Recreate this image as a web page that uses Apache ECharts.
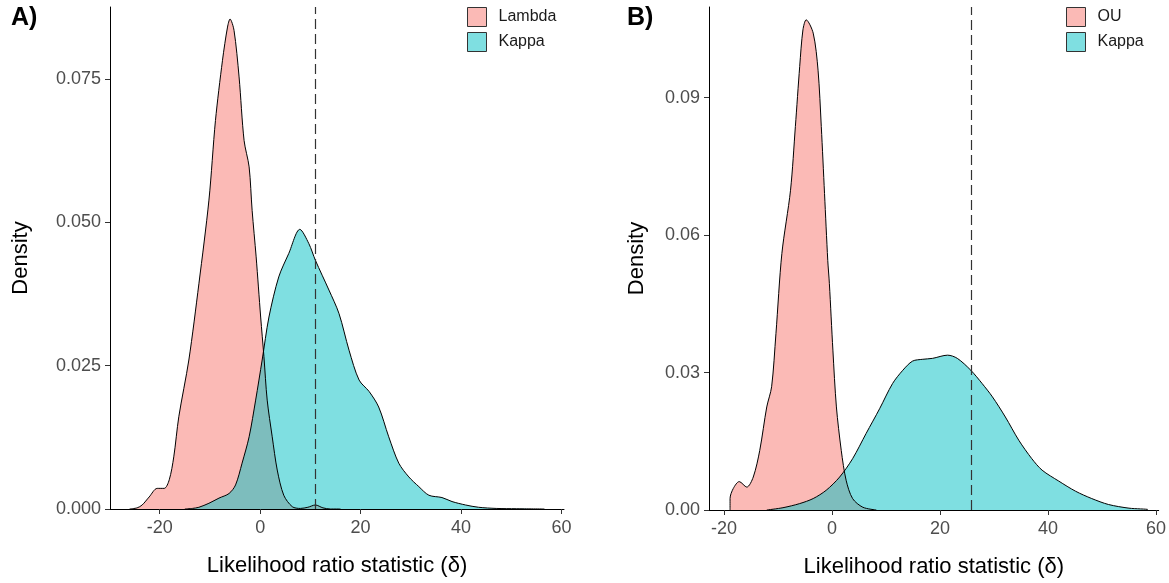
<!DOCTYPE html>
<html>
<head>
    <meta charset="utf-8">
    <title>Likelihood ratio statistic</title>
    <script src="https://cdn.jsdelivr.net/npm/echarts@6/dist/echarts.min.js"></script>
    <style>
        html, body { margin: 0; padding: 0; background: #fff; }
        #chart1 { width: 1169px; height: 583px; }
    </style>
</head>
<body>
<div id="chart1"></div>
<script type="text/javascript">
    // panel A: Lambda vs Kappa
    var lambdaX = [-26, -24.5, -23.5, -22.1, -20.5, -19.1, -18.1, -17.2, -16.2, -14.2, -12.2, -10.2, -8.9, -7.5, -6.5, -6.0, -5.2, -4.2, -3.2, -2.2, -1.6, -0.8, 0.1, 0.75, 1.4, 2.4, 3.4, 4.7, 6.4, 8, 9.5, 11, 12.5, 14, 16];
    var lambdaY = [0, 0.0002, 0.0007, 0.0021, 0.0036, 0.0036, 0.0051, 0.0091, 0.0161, 0.026, 0.0393, 0.0539, 0.0678, 0.0783, 0.0841, 0.0855, 0.0835, 0.0754, 0.0643, 0.0597, 0.0521, 0.044, 0.0335, 0.0266, 0.019, 0.0126, 0.0068, 0.0024, 0.0004, 0.0001, 0.0003, 0.0007, 0.0002, 0, 0];
    var kappaAX = [-15, -13.5, -12.2, -10.2, -8.2, -6.2, -4.9, -3.6, -2.2, -0.9, 0.4, 1.75, 3.7, 5.7, 7.9, 9.7, 11.0, 13.7, 15.7, 17.7, 19.7, 21.7, 23.6, 25.6, 27.6, 29.6, 31.6, 33.6, 36.2, 38.2, 40.9, 43.5, 47, 51, 56.6];
    var kappaAY = [0, 0.0001, 0.0003, 0.001, 0.0019, 0.0027, 0.0042, 0.008, 0.0126, 0.019, 0.026, 0.0335, 0.0405, 0.0446, 0.0488, 0.0463, 0.0434, 0.0382, 0.0341, 0.0277, 0.0225, 0.0205, 0.0178, 0.0126, 0.008, 0.0056, 0.0039, 0.0024, 0.002, 0.0013, 0.0007, 0.0003, 0.0001, 0.00005, 0];
    var cutoffA = 11.0;

    // panel B: OU vs Kappa
    var ouX = [-18.9, -18.9, -18.3, -17.2, -15.8, -14.6, -13.4, -12.1, -11.2, -10.4, -9.3, -7.7, -6.8, -6.0, -5.4, -4.8, -3.5, -2.6, -2.0, -1.4, -0.8, -0.5, 0.15, 0.8, 1.7, 2.6, 3.8, 5.7, 8.2];
    var ouY = [0, 0.0025, 0.0047, 0.0062, 0.005, 0.0072, 0.013, 0.0225, 0.0269, 0.0385, 0.056, 0.0698, 0.0837, 0.0968, 0.1048, 0.107, 0.1041, 0.096, 0.0837, 0.0691, 0.0545, 0.0494, 0.0349, 0.0225, 0.013, 0.0065, 0.0025, 0.0006, 0];
    var kappaBX = [-12.1, -9.1, -6.0, -3.5, -1.1, 1.4, 3.8, 6.3, 8.8, 11.2, 13.1, 14.9, 16.8, 18.6, 21.4, 23.2, 25.7, 27.8, 29.7, 32.1, 34.6, 37.0, 38.9, 42.0, 45.1, 48.1, 51.2, 55, 58.5, 58.5];
    var kappaBY = [0, 0.0005, 0.0014, 0.0025, 0.0043, 0.0072, 0.0112, 0.0167, 0.0221, 0.0276, 0.0305, 0.0325, 0.0329, 0.0331, 0.0338, 0.0331, 0.0305, 0.0276, 0.0247, 0.0203, 0.0152, 0.0112, 0.0087, 0.0063, 0.0041, 0.0025, 0.0012, 0.0004, 0.0001, 0];
    var cutoffB = 25.7;

    // tick labels
    var xTicks = [-20, 0, 20, 40, 60];
    var yTicksA = [0, 0.025, 0.05, 0.075];
    var yTicksB = [0, 0.03, 0.06, 0.09];

    var font = 'Liberation Sans, Arial, sans-serif';
    var pink = 'rgba(248,118,109,0.5)';
    var cyan = 'rgba(0,191,196,0.5)';

    function pairs(xs, ys) {
        return xs.map(function (x, i) { return [x, ys[i]]; });
    }

    function xAxisOf(idx, min, max) {
        return {
            type: 'value', gridIndex: idx, min: min, max: max,
            splitLine: { show: false },
            axisLine: { onZero: false, lineStyle: { color: '#000', width: 1 } },
            axisTick: { length: 5, lineStyle: { color: '#333' }, customValues: xTicks },
            axisLabel: { color: '#4d4d4d', fontSize: 18, fontFamily: font, margin: 10, customValues: xTicks },
            name: 'Likelihood ratio statistic (δ)',
            nameLocation: 'middle', nameGap: 46,
            nameTextStyle: { color: '#000', fontSize: 22, fontFamily: font }
        };
    }

    function yAxisOf(idx, max, ticks, digits, gap) {
        return {
            type: 'value', gridIndex: idx, min: 0, max: max,
            splitLine: { show: false },
            axisLine: { show: true, onZero: false, lineStyle: { color: '#000', width: 1 } },
            axisTick: { show: true, length: 5, lineStyle: { color: '#333' }, customValues: ticks },
            axisLabel: {
                color: '#4d4d4d', fontSize: 18, fontFamily: font, margin: 9, customValues: ticks,
                formatter: function (v) { return v.toFixed(digits); }
            },
            name: 'Density',
            nameLocation: 'middle', nameGap: gap, nameRotate: 90,
            nameTextStyle: { color: '#000', fontSize: 22, fontFamily: font }
        };
    }

    function densitySeries(name, idx, data, fill, cutoff) {
        var s = {
            name: name, type: 'line', xAxisIndex: idx, yAxisIndex: idx,
            data: data, smooth: 0.3, showSymbol: false, symbol: 'none',
            itemStyle: { color: fill },
            lineStyle: { color: '#000', width: 1 },
            areaStyle: { color: fill, opacity: 1 },
            silent: true
        };
        if (cutoff !== undefined) {
            s.markLine = {
                silent: true, symbol: 'none', label: { show: false },
                lineStyle: { color: '#333', width: 1.2, type: [10, 5] },
                data: [{ xAxis: cutoff }]
            };
        }
        return s;
    }

    function legendOf(left, names) {
        return {
            orient: 'vertical', left: left, top: 7, padding: 0,
            itemWidth: 19, itemHeight: 19, itemGap: 5,
            icon: 'rect',
            itemStyle: { borderColor: '#333', borderWidth: 1 },
            textStyle: { color: '#1a1a1a', fontSize: 16, fontFamily: font, padding: [0, 0, 0, 7] },
            data: [
                { name: names[0], itemStyle: { color: pink } },
                { name: names[1], itemStyle: { color: cyan } }
            ],
            selectedMode: false
        };
    }

    var myChart = echarts.init(document.getElementById('chart1'), null, { renderer: 'canvas' });

    var option = {
        animation: false,
        backgroundColor: '#fff',
        grid: [
            { left: 110, top: 7, width: 454, height: 502 },
            { left: 709, top: 7, width: 451, height: 503 }
        ],
        xAxis: [xAxisOf(0, -29.9, 60.5), xAxisOf(1, -22.8, 60.5)],
        yAxis: [yAxisOf(0, 0.0876, yTicksA, 3, 78), yAxisOf(1, 0.1098, yTicksB, 2, 61)],
        legend: [legendOf(467, ['Lambda', 'Kappa']), legendOf(1066, ['OU', 'Kappa'])],
        graphic: [
            { type: 'text', left: 11, top: 6, style: { text: 'A)', fontSize: 25, fontWeight: 'bold', fontFamily: font, fill: '#000' } },
            { type: 'text', left: 627, top: 6, style: { text: 'B)', fontSize: 25, fontWeight: 'bold', fontFamily: font, fill: '#000' } }
        ],
        series: [
            densitySeries('Lambda', 0, pairs(lambdaX, lambdaY), pink),
            densitySeries('Kappa', 0, pairs(kappaAX, kappaAY), cyan, cutoffA),
            densitySeries('OU', 1, pairs(ouX, ouY), pink),
            densitySeries('Kappa', 1, pairs(kappaBX, kappaBY), cyan, cutoffB)
        ]
    };
    myChart.setOption(option);
</script>
</body>
</html>
